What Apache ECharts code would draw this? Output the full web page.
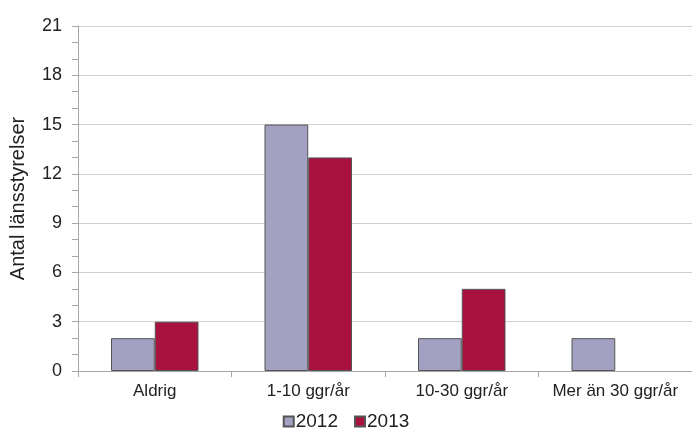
<!DOCTYPE html>
<html>
<head>
<meta charset="utf-8">
<script src="https://cdn.jsdelivr.net/npm/echarts@6/dist/echarts.min.js"></script>
<style>
  html, body { margin: 0; padding: 0; background: #fff; }
  #chart { width: 692px; height: 437px; }
</style>
</head>
<body>
<div id="chart"></div>
<script>
// Frequency categories and number of county boards per year
const categories = ['Aldrig', '1-10 ggr/år', '10-30 ggr/år', 'Mer än 30 ggr/år'];
const values2012 = [2, 15, 2, 2];
const values2013 = [3, 13, 5, 0];
const yTicks = [0, 3, 6, 9, 12, 15, 18, 21];

const chart = echarts.init(document.getElementById('chart'), null, { renderer: 'canvas' });

const font = 'Liberation Sans, Arial, sans-serif';

// zero-height bars get no outline
const toBarData = (vals) => vals.map(v => v === 0 ? { value: v, itemStyle: { borderWidth: 0 } } : v);

chart.setOption({
  animation: false,
  textStyle: { fontFamily: font },
  grid: { left: 78, right: 0, top: 26, bottom: 66, containLabel: false },
  legend: {
    bottom: 1,
    left: 'center',
    itemWidth: 10,
    itemHeight: 10,
    itemGap: 16,
    icon: 'rect',
    textStyle: { fontSize: 19, color: '#222', fontFamily: font, padding: [0, 0, 0, -3] },
    data: ['2012', '2013']
  },
  xAxis: {
    type: 'category',
    data: categories,
    axisLine: { lineStyle: { color: '#a6a6a6', width: 1 } },
    axisTick: { show: true, interval: 0, alignWithLabel: false, length: 6, lineStyle: { color: '#a6a6a6' } },
    axisLabel: { interval: 0, fontSize: 17, color: '#222', margin: 12, fontFamily: font }
  },
  yAxis: {
    type: 'value',
    min: yTicks[0],
    max: yTicks[yTicks.length - 1],
    interval: 3,
    name: 'Antal länsstyrelser',
    nameLocation: 'middle',
    nameGap: 50,
    nameTextStyle: { fontSize: 20, color: '#222', fontFamily: font },
    axisLine: { show: true, lineStyle: { color: '#a6a6a6' } },
    axisTick: { show: true, inside: false, length: 6, lineStyle: { color: '#a6a6a6' } },
    minorTick: { show: true, splitNumber: 3, length: 6, lineStyle: { color: '#a6a6a6' } },
    splitLine: { show: true, lineStyle: { color: '#d0d0d0', width: 1 } },
    axisLabel: { fontSize: 18, color: '#222', margin: 16, fontFamily: font }
  },
  series: [
    {
      name: '2012',
      type: 'bar',
      data: toBarData(values2012),
      barGap: '0%',
      barCategoryGap: '43%',
      itemStyle: { color: '#a3a1c1', borderColor: '#555', borderWidth: 1 }
    },
    {
      name: '2013',
      type: 'bar',
      data: toBarData(values2013),
      itemStyle: { color: '#a8123e', borderColor: '#555', borderWidth: 1 }
    }
  ]
});
</script>
</body>
</html>
